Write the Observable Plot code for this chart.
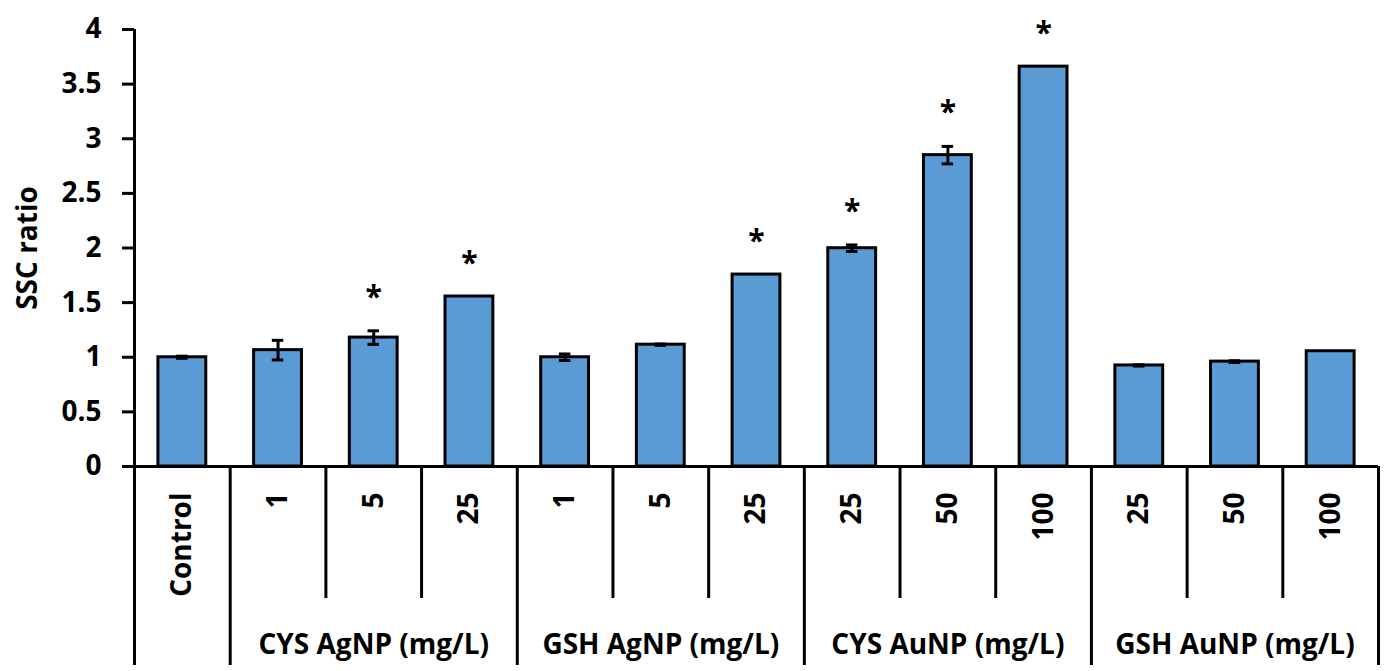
<!DOCTYPE html>
<html>
<head>
<meta charset="utf-8">
<script src="https://cdn.jsdelivr.net/npm/d3@7"></script>
<script src="https://cdn.jsdelivr.net/npm/@observablehq/plot@0.6"></script>
<style>
  html, body { margin: 0; padding: 0; background: #ffffff; }
  #chart svg { display: block; }
</style>
</head>
<body>
<div id="chart"></div>
<script>
// ---- Data ----
const categories = ["Control", "1", "5", "25", "1", "5", "25", "25", "50", "100", "25", "50", "100"];
const values = [1.00, 1.065, 1.18, 1.556, 1.00, 1.115, 1.757, 1.998, 2.85, 3.66, 0.925, 0.96, 1.055];
const errors = [0.01, 0.09, 0.062, 0, 0.03, 0.006, 0, 0.03, 0.08, 0, 0.006, 0.008, 0];
const significant = [false, false, true, true, false, false, true, true, true, true, false, false, false];
const groupNames = ["", "CYS AgNP (mg/L)", "GSH AgNP (mg/L)", "CYS AuNP (mg/L)", "GSH AuNP (mg/L)"];
const groupSizes = [1, 3, 3, 3, 3];
const yTicks = [0, 0.5, 1, 1.5, 2, 2.5, 3, 3.5, 4];
const yLabel = "SSC ratio";

// ---- Derived tables ----
const rows = categories.map((label, i) => ({i, label, value: values[i], err: errors[i], sig: significant[i]}));
let acc = 0;
const groups = groupNames.map((name, g) => {
  const start = acc; acc += groupSizes[g];
  return {name, start, end: acc};
});
const fullBounds = [0, ...groups.map(g => g.end)];
const innerBounds = d3.range(1, categories.length).filter(b => !fullBounds.includes(b));

// ---- Layout ----
const W = 1384, H = 671;
const mL = 134, mR = 6, mT = 29, mB = 205;
const pxPerUnit = (H - mT - mB) / 4;
const yFull = -199 / pxPerUnit;   // separator depth below axis (full)
const yInner = -132 / pxPerUnit;  // separator depth below axis (inner)
const font = "'Open Sans', sans-serif";

const chart = Plot.plot({
  width: W,
  height: H,
  marginLeft: mL,
  marginRight: mR,
  marginTop: mT,
  marginBottom: mB,
  style: {fontFamily: font, fontSize: "28px", fontWeight: "bold", color: "#000", background: "#fff", overflow: "visible"},
  x: {domain: [0, categories.length], axis: null},
  y: {domain: [0, 4], axis: null},
  marks: [
    Plot.rectY(rows, {x1: d => d.i + 0.25, x2: d => d.i + 0.75, y1: 0, y2: "value", fill: "#5B9BD5", stroke: "#000", strokeWidth: 3}),
    Plot.ruleX(rows.filter(d => d.err > 0), {x: d => d.i + 0.5, y1: d => d.value - d.err, y2: d => d.value + d.err, stroke: "#000", strokeWidth: 3}),
    Plot.ruleY(rows.filter(d => d.err > 0), {y: d => d.value + d.err, x1: d => d.i + 0.44, x2: d => d.i + 0.56, stroke: "#000", strokeWidth: 3}),
    Plot.ruleY(rows.filter(d => d.err > 0), {y: d => d.value - d.err, x1: d => d.i + 0.44, x2: d => d.i + 0.56, stroke: "#000", strokeWidth: 3}),
    Plot.text(rows.filter(d => d.sig), {x: d => d.i + 0.5, y: d => d.value + d.err, text: () => "*", lineAnchor: "bottom", dy: -24, fontSize: 30, fontWeight: "bold", fill: "#000"}),
    // axes
    Plot.axisY({ticks: yTicks, tickFormat: d => String(d), tickSize: 12, tickPadding: 21, strokeWidth: 3, label: null, fontSize: 28, fontWeight: "bold", fill: "#000"}),
    Plot.ruleX([0], {stroke: "#000", strokeWidth: 3}),
    Plot.ruleY([0], {stroke: "#000", strokeWidth: 3}),
    Plot.text([yLabel], {frameAnchor: "left", text: d => d, rotate: -90, textAnchor: "middle", lineAnchor: "middle", dx: -106, fontSize: 28, fontWeight: "bold", fill: "#000"}),
    // category separators below the axis
    Plot.ruleX(fullBounds, {x: d => d, y1: 0, y2: yFull, stroke: "#000", strokeWidth: 3}),
    Plot.ruleX(innerBounds, {x: d => d, y1: 0, y2: yInner, stroke: "#000", strokeWidth: 3}),
    // category labels
    Plot.text(rows, {x: d => d.i + 0.5, frameAnchor: "bottom", text: "label", rotate: -90, textAnchor: "end", lineAnchor: "middle", dy: 26, fontSize: 28, fontWeight: "bold", fill: "#000"}),
    // group labels
    Plot.text(groups.filter(g => g.name), {x: d => (d.start + d.end) / 2, frameAnchor: "bottom", text: "name", lineAnchor: "bottom", dy: 187, fontSize: 28, fontWeight: "bold", fill: "#000"})
  ]
});
document.getElementById("chart").appendChild(chart);
</script>
</body>
</html>
